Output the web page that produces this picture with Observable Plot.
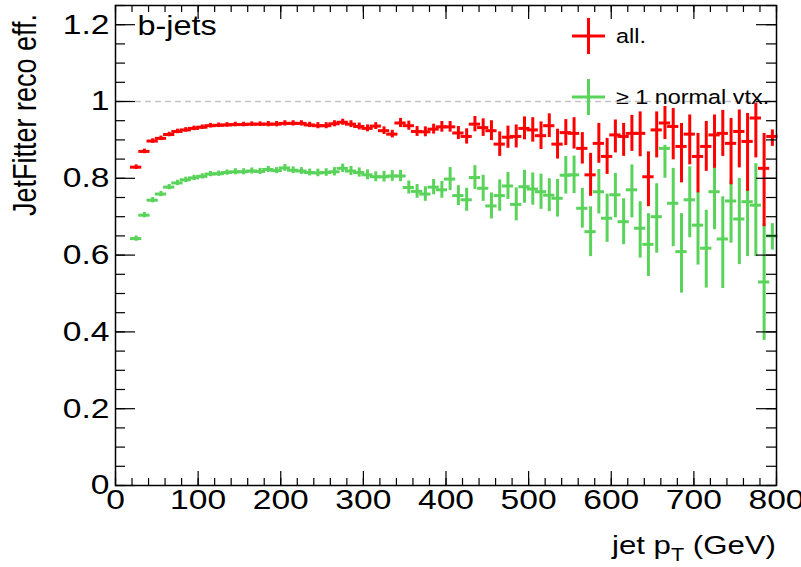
<!DOCTYPE html>
<html>
<head>
<meta charset="utf-8">
<script src="https://cdn.jsdelivr.net/npm/d3@7"></script>
<script src="https://cdn.jsdelivr.net/npm/@observablehq/plot@0.6"></script>
<style>
  html, body { margin: 0; padding: 0; background: #fff; }
  svg { display: block; }
</style>
</head>
<body>
<div id="chart"></div>
<script>
// ---------- data ----------
const ptCenters = [
  25, 35, 45, 55, 65, 75, 85, 95, 105, 115,
  125, 135, 145, 155, 165, 175, 185, 195, 205, 215,
  225, 235, 245, 255, 265, 275, 285, 295, 305, 315,
  325, 335, 345, 355, 365, 375, 385, 395, 405, 415,
  425, 435, 445, 455, 465, 475, 485, 495, 505, 515,
  525, 535, 545, 555, 565, 575, 585, 595, 605, 615,
  625, 635, 645, 655, 665, 675, 685, 695, 705, 715,
  725, 735, 745, 755, 765, 775, 785, 795
];
const binWidth = 10;

const effAll = [
  0.829, 0.870, 0.897, 0.904, 0.914, 0.922, 0.926, 0.930, 0.933, 0.937,
  0.938, 0.939, 0.940, 0.940, 0.941, 0.941, 0.941, 0.941, 0.943, 0.943,
  0.943, 0.939, 0.937, 0.937, 0.942, 0.946, 0.941, 0.935, 0.930, 0.936,
  0.924, 0.915, 0.944, 0.937, 0.922, 0.921, 0.928, 0.934, 0.934, 0.918,
  0.909, 0.941, 0.932, 0.924, 0.889, 0.907, 0.909, 0.930, 0.926, 0.911,
  0.937, 0.889, 0.919, 0.917, 0.878, 0.809, 0.891, 0.857, 0.913, 0.909,
  0.917, 0.917, 0.804, 0.926, 0.944, 0.935, 0.883, 0.915, 0.857, 0.883,
  0.913, 0.917, 0.891, 0.922, 0.896, 0.957, 0.826, 0.909
];
const errUpAll = [
  0.002, 0.002, 0.002, 0.002, 0.002, 0.002, 0.002, 0.002, 0.002, 0.002,
  0.002, 0.002, 0.002, 0.002, 0.002, 0.002, 0.003, 0.003, 0.003, 0.003,
  0.003, 0.003, 0.004, 0.004, 0.004, 0.004, 0.005, 0.005, 0.005, 0.005,
  0.006, 0.006, 0.008, 0.008, 0.009, 0.009, 0.009, 0.010, 0.010, 0.013,
  0.016, 0.016, 0.019, 0.022, 0.028, 0.025, 0.026, 0.026, 0.028, 0.032,
  0.027, 0.035, 0.030, 0.037, 0.037, 0.052, 0.048, 0.043, 0.035, 0.030,
  0.043, 0.052, 0.061, 0.043, 0.039, 0.043, 0.056, 0.046, 0.056, 0.061,
  0.048, 0.056, 0.061, 0.052, 0.069, 0.035, 0.087, 0.013
];
const errDownAll = [
  0.002, 0.002, 0.002, 0.002, 0.002, 0.002, 0.002, 0.002, 0.002, 0.002,
  0.002, 0.002, 0.002, 0.002, 0.002, 0.002, 0.003, 0.003, 0.003, 0.003,
  0.003, 0.003, 0.004, 0.004, 0.004, 0.004, 0.005, 0.005, 0.005, 0.005,
  0.006, 0.006, 0.008, 0.008, 0.009, 0.009, 0.009, 0.010, 0.010, 0.013,
  0.016, 0.016, 0.019, 0.022, 0.028, 0.025, 0.026, 0.026, 0.028, 0.032,
  0.027, 0.035, 0.030, 0.037, 0.037, 0.052, 0.048, 0.043, 0.043, 0.048,
  0.043, 0.057, 0.074, 0.069, 0.039, 0.083, 0.091, 0.076, 0.091, 0.061,
  0.083, 0.056, 0.104, 0.091, 0.126, 0.100, 0.148, 0.022
];

const effVtx = [
  0.643, 0.704, 0.743, 0.759, 0.777, 0.788, 0.796, 0.801, 0.805, 0.811,
  0.812, 0.815, 0.817, 0.817, 0.819, 0.818, 0.823, 0.820, 0.827, 0.821,
  0.819, 0.815, 0.814, 0.815, 0.817, 0.826, 0.819, 0.815, 0.809, 0.804,
  0.804, 0.806, 0.806, 0.776, 0.766, 0.759, 0.777, 0.770, 0.798, 0.755,
  0.744, 0.802, 0.774, 0.728, 0.755, 0.780, 0.732, 0.778, 0.772, 0.765,
  0.756, 0.748, 0.808, 0.809, 0.722, 0.661, 0.765, 0.696, 0.757, 0.687,
  0.770, 0.670, 0.628, 0.700, 0.878, 0.735, 0.609, 0.744, 0.678, 0.618,
  0.765, 0.642, 0.741, 0.694, 0.739, 0.730, 0.530, 0.650
];
const errUpVtx = [
  0.003, 0.003, 0.003, 0.003, 0.003, 0.003, 0.003, 0.003, 0.003, 0.003,
  0.003, 0.003, 0.004, 0.004, 0.004, 0.004, 0.004, 0.004, 0.005, 0.005,
  0.005, 0.005, 0.006, 0.006, 0.007, 0.007, 0.008, 0.008, 0.009, 0.009,
  0.010, 0.010, 0.011, 0.013, 0.014, 0.015, 0.016, 0.018, 0.026, 0.022,
  0.026, 0.027, 0.030, 0.030, 0.037, 0.031, 0.039, 0.039, 0.038, 0.042,
  0.039, 0.045, 0.045, 0.045, 0.048, 0.061, 0.054, 0.059, 0.052, 0.056,
  0.061, 0.065, 0.076, 0.082, 0.004, 0.087, 0.095, 0.082, 0.082, 0.095,
  0.065, 0.106, 0.050, 0.102, 0.030, 0.104, 0.148, 0.028
];
const errDownVtx = [
  0.003, 0.003, 0.003, 0.003, 0.003, 0.003, 0.003, 0.003, 0.003, 0.003,
  0.003, 0.003, 0.004, 0.004, 0.004, 0.004, 0.004, 0.004, 0.005, 0.005,
  0.005, 0.005, 0.006, 0.006, 0.007, 0.007, 0.008, 0.008, 0.009, 0.009,
  0.010, 0.010, 0.011, 0.013, 0.014, 0.015, 0.016, 0.018, 0.026, 0.022,
  0.026, 0.027, 0.030, 0.030, 0.037, 0.031, 0.039, 0.039, 0.038, 0.042,
  0.039, 0.045, 0.045, 0.045, 0.048, 0.061, 0.054, 0.059, 0.056, 0.056,
  0.069, 0.074, 0.080, 0.091, 0.074, 0.109, 0.104, 0.095, 0.100, 0.100,
  0.095, 0.125, 0.106, 0.115, 0.139, 0.130, 0.148, 0.033
];

const xTicks = [0, 100, 200, 300, 400, 500, 600, 700, 800];
const xTickLabels = ["0", "100", "200", "300", "400", "500", "600", "700", "800"];
const yTicks = [0, 0.2, 0.4, 0.6, 0.8, 1, 1.2];
const yTickLabels = ["0", "0.2", "0.4", "0.6", "0.8", "1", "1.2"];
const xMinorTicks = d3.range(0, 801, 20);
const yMinorTicks = d3.range(0, 1.2501, 0.05);

const seriesNames = ["all.", "\u2265 1 normal vtx."];
const seriesColors = ["#ff0000", "#5ad35a"];
const xTitle = ["jet p", "T", " (GeV)"];
const yTitle = "JetFitter reco eff.";
const panelLabel = "b-jets";

// ---------- layout ----------
const W = 801, H = 567;
const mL = 115, mR = 25, mT = 5, mB = 82;
const frameW = W - mL - mR, frameH = H - mT - mB;
const FONT = "'Liberation Sans', Arial, Helvetica, sans-serif";
const STRETCH = 1.2; // ROOT's Helvetica in the reference is rendered wider

const series = [
  {name: seriesNames[0], color: seriesColors[0], eff: effAll, up: errUpAll, down: errDownAll},
  {name: seriesNames[1], color: seriesColors[1], eff: effVtx, up: errUpVtx, down: errDownVtx}
];
const rowsOf = s => ptCenters.map((pt, i) => ({
  pt, eff: s.eff[i],
  lo: s.eff[i] - s.down[i], hi: s.eff[i] + s.up[i],
  x1: pt - binWidth / 2, x2: pt + binWidth / 2
}));
const rowsAll = rowsOf(series[0]);
const rowsVtx = rowsOf(series[1]);

const errMarks = (rows, color) => [
  Plot.ruleY(rows, {y: "eff", x1: "x1", x2: "x2", stroke: color, strokeWidth: 3, strokeLinecap: "square"}),
  Plot.ruleX(rows, {x: "pt", y1: "lo", y2: "hi", stroke: color, strokeWidth: 3, strokeLinecap: "square"})
];
const tickStyle = {stroke: "#000", strokeWidth: 1.2};

const svg = Plot.plot({
  width: W, height: H,
  marginLeft: mL, marginRight: mR, marginTop: mT, marginBottom: mB,
  style: {fontFamily: FONT, background: "#fff", color: "#000"},
  x: {domain: [0, 800], label: null},
  y: {domain: [0, 1.25], label: null},
  marks: [
    Plot.ruleY([1], {stroke: "#c4c4c4", strokeWidth: 1.5, strokeDasharray: "6,4"}),
    ...errMarks(rowsVtx, seriesColors[1]),
    ...errMarks(rowsAll, seriesColors[0]),
    // inward ticks on all four sides, ROOT style
    Plot.tickY(yTicks, {y: d => d, insetRight: frameW - 20, ...tickStyle}),
    Plot.tickY(yMinorTicks, {y: d => d, insetRight: frameW - 10, ...tickStyle}),
    Plot.tickY(yTicks, {y: d => d, insetLeft: frameW - 20, ...tickStyle}),
    Plot.tickY(yMinorTicks, {y: d => d, insetLeft: frameW - 10, ...tickStyle}),
    Plot.tickX(xTicks, {x: d => d, insetTop: frameH - 14, ...tickStyle}),
    Plot.tickX(xMinorTicks, {x: d => d, insetTop: frameH - 7, ...tickStyle}),
    Plot.tickX(xTicks, {x: d => d, insetBottom: frameH - 14, ...tickStyle}),
    Plot.tickX(xMinorTicks, {x: d => d, insetBottom: frameH - 7, ...tickStyle}),
    Plot.axisX(xTicks, {tickSize: 0, tickPadding: 4, fontSize: 28, label: null,
      tickFormat: d => xTickLabels[xTicks.indexOf(d)]}),
    Plot.axisY(yTicks, {tickSize: 0, tickPadding: 6, fontSize: 28, label: null,
      tickFormat: d => yTickLabels[yTicks.indexOf(d)]}),
    Plot.text([panelLabel], {frameAnchor: "top-left", textAnchor: "start", lineAnchor: "top",
      dx: 22, dy: 10, fontSize: 27, fill: "#000"}),
    Plot.frame({stroke: "#000", strokeWidth: 1.5})
  ]
});

const root = d3.select(svg);

// legend
const legendRows = [
  {name: seriesNames[0], color: seriesColors[0], cy: 36},
  {name: seriesNames[1], color: seriesColors[1], cy: 97}
];
const lg = root.append("g");
legendRows.forEach(r => {
  lg.append("line").attr("x1", 572).attr("x2", 605).attr("y1", r.cy).attr("y2", r.cy)
    .attr("stroke", r.color).attr("stroke-width", 3);
  lg.append("line").attr("x1", 588.5).attr("x2", 588.5).attr("y1", r.cy - 18).attr("y2", r.cy + 18)
    .attr("stroke", r.color).attr("stroke-width", 3);
  lg.append("text").attr("x", 616).attr("y", r.cy + 7)
    .attr("text-anchor", "start").attr("font-size", 19.5).attr("fill", "#000").text(r.name);
});

// widen every horizontal text around its own anchor (y offsets left untouched)
root.selectAll("text").each(function () {
  const el = this;
  let t = el.getAttribute("transform") || "";
  const xs = el.getAttribute("x");
  if (xs !== null && xs !== "" && !isNaN(+xs)) {
    t += ` translate(${+xs},0)`;
    el.removeAttribute("x");
  }
  if (!/rotate/.test(t)) t += ` scale(${STRETCH},1)`;
  el.setAttribute("transform", t.trim());
});

// x-axis title with subscript (right-aligned to the frame)
const xt = root.append("text")
  .attr("transform", `translate(${W - mR},554) scale(${STRETCH},1)`)
  .attr("text-anchor", "end").attr("font-size", 26).attr("fill", "#000");
xt.append("tspan").text(xTitle[0]);
xt.append("tspan").attr("font-size", 18).attr("dy", 7).text(xTitle[1]);
xt.append("tspan").attr("dy", -7).text(xTitle[2]);

// y-axis title, rotated, glyphs widened along screen x
root.append("text")
  .attr("transform", `translate(36,14) scale(${STRETCH},1) rotate(-90)`)
  .attr("text-anchor", "end").attr("font-size", 27).attr("fill", "#000")
  .text(yTitle);

document.getElementById("chart").appendChild(svg);
</script>
</body>
</html>
